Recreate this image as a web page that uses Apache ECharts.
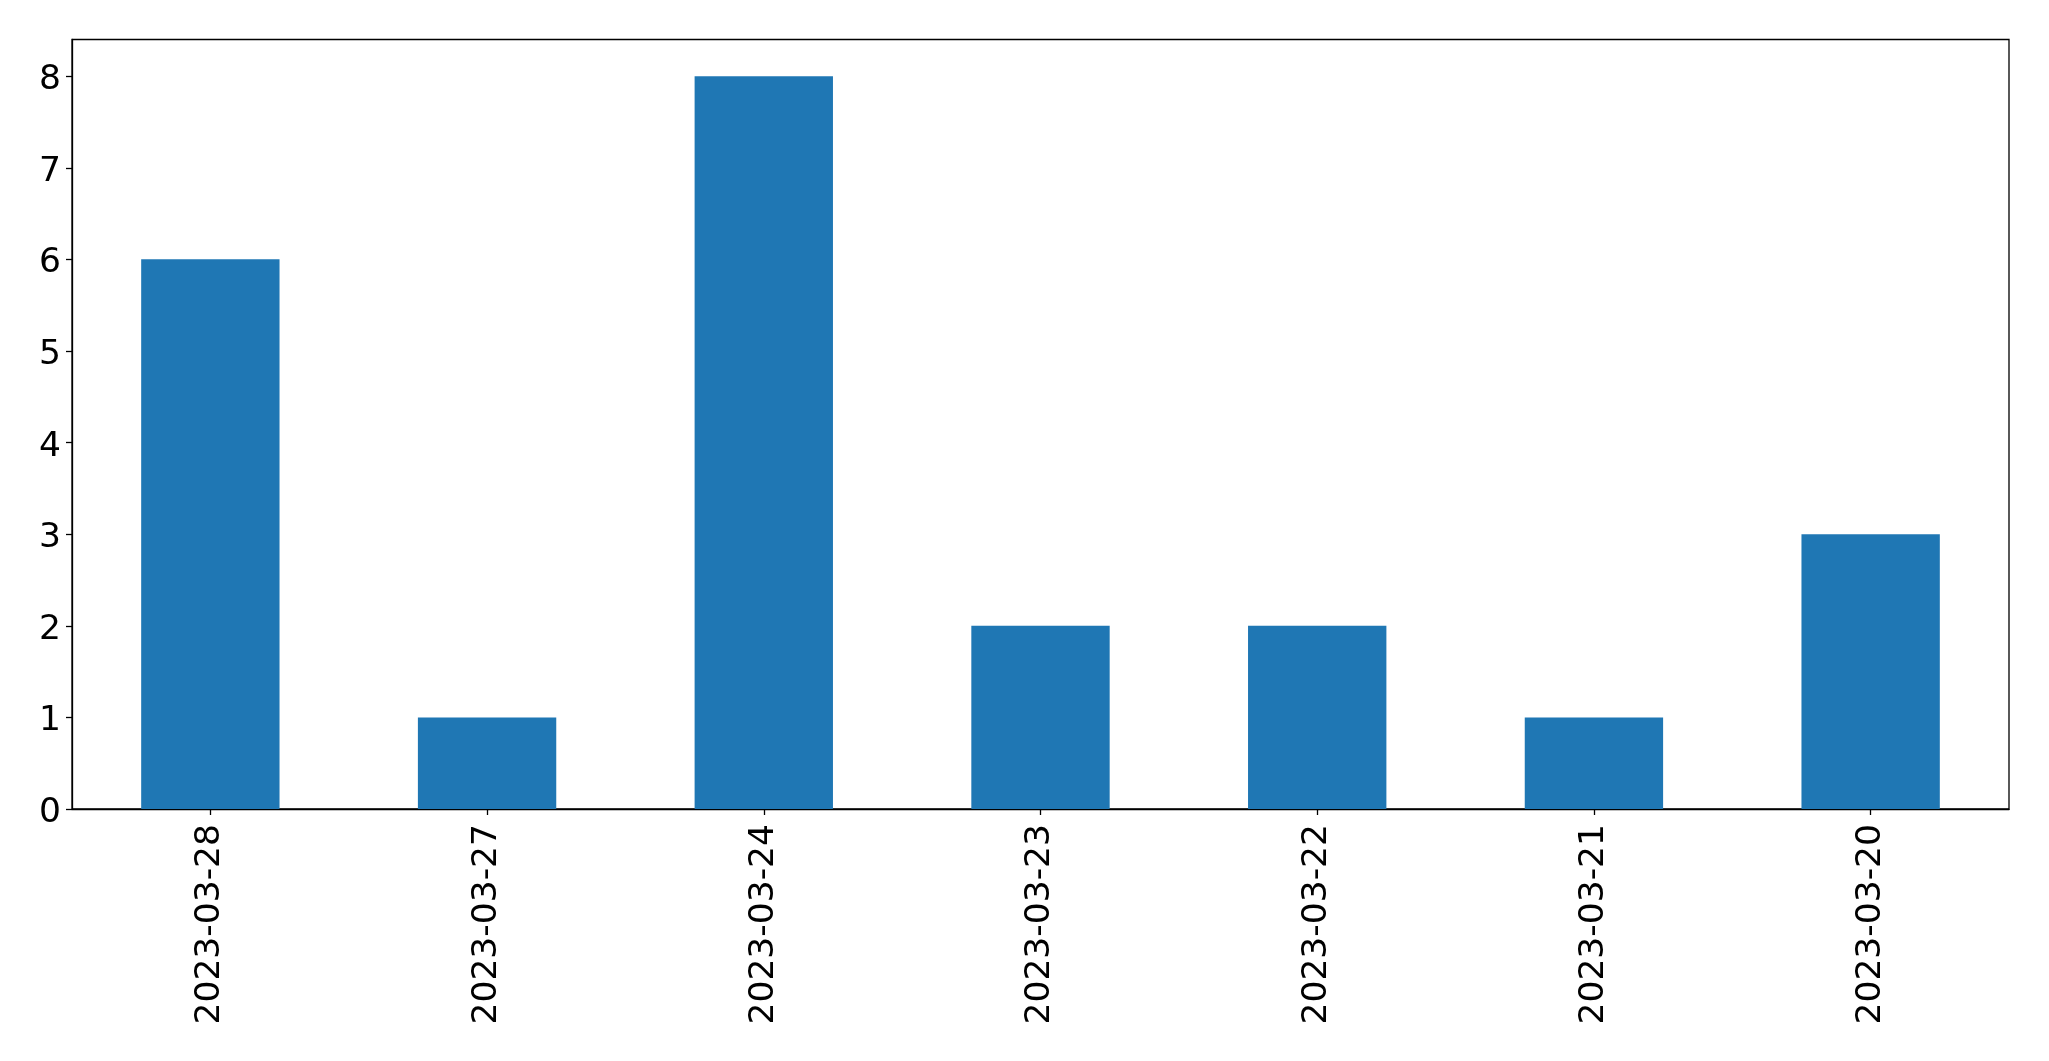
<!DOCTYPE html>
<html>
<head>
<meta charset="utf-8">
<script src="https://cdn.jsdelivr.net/npm/echarts@6/dist/echarts.min.js"></script>
<style>
html,body{margin:0;padding:0;background:#fff;}
#chart{width:2049px;height:1061px;}
</style>
</head>
<body>
<div id="chart"></div>
<script>
const categories = ['2023-03-28','2023-03-27','2023-03-24','2023-03-23','2023-03-22','2023-03-21','2023-03-20'];
const values = [6, 1, 8, 2, 2, 1, 3];
const yTicks = [0, 1, 2, 3, 4, 5, 6, 7, 8];

const chart = echarts.init(document.getElementById('chart'), null, {renderer: 'canvas'});
const font = 'DejaVu Sans';
chart.setOption({
  animation: false,
  backgroundColor: '#ffffff',
  grid: {
    left: 72, right: 40, top: 39.5, bottom: 252,
    show: true, borderColor: '#000', borderWidth: 1.3, backgroundColor: 'transparent'
  },
  xAxis: {
    type: 'category',
    data: categories,
    boundaryGap: true,
    axisLine: {show: true, lineStyle: {color: '#000', width: 1.3}},
    axisTick: {show: true, alignWithLabel: true, length: 6, lineStyle: {color: '#000', width: 1.3}},
    axisLabel: {rotate: 90, margin: 15, color: '#000', fontSize: 34.5, fontFamily: font, interval: 0},
    splitLine: {show: false}
  },
  yAxis: {
    type: 'value',
    min: 0, max: 8.4, interval: 1,
    axisLine: {show: true, lineStyle: {color: '#000', width: 1.3}},
    axisTick: {show: true, length: 6, lineStyle: {color: '#000', width: 1.3}, customValues: yTicks},
    axisLabel: {
      margin: 11, color: '#000', fontSize: 34.5, fontFamily: font, customValues: yTicks,
      formatter: function (v) { return '{a|' + v + '}'; },
      rich: {a: {color: '#000', fontSize: 34.5, fontFamily: font, padding: [8, 0, 0, 0]}}
    },
    splitLine: {show: false}
  },
  series: [{
    type: 'bar',
    data: values,
    barWidth: '50%',
    itemStyle: {color: '#1f77b4'}
  }]
});
</script>
</body>
</html>
